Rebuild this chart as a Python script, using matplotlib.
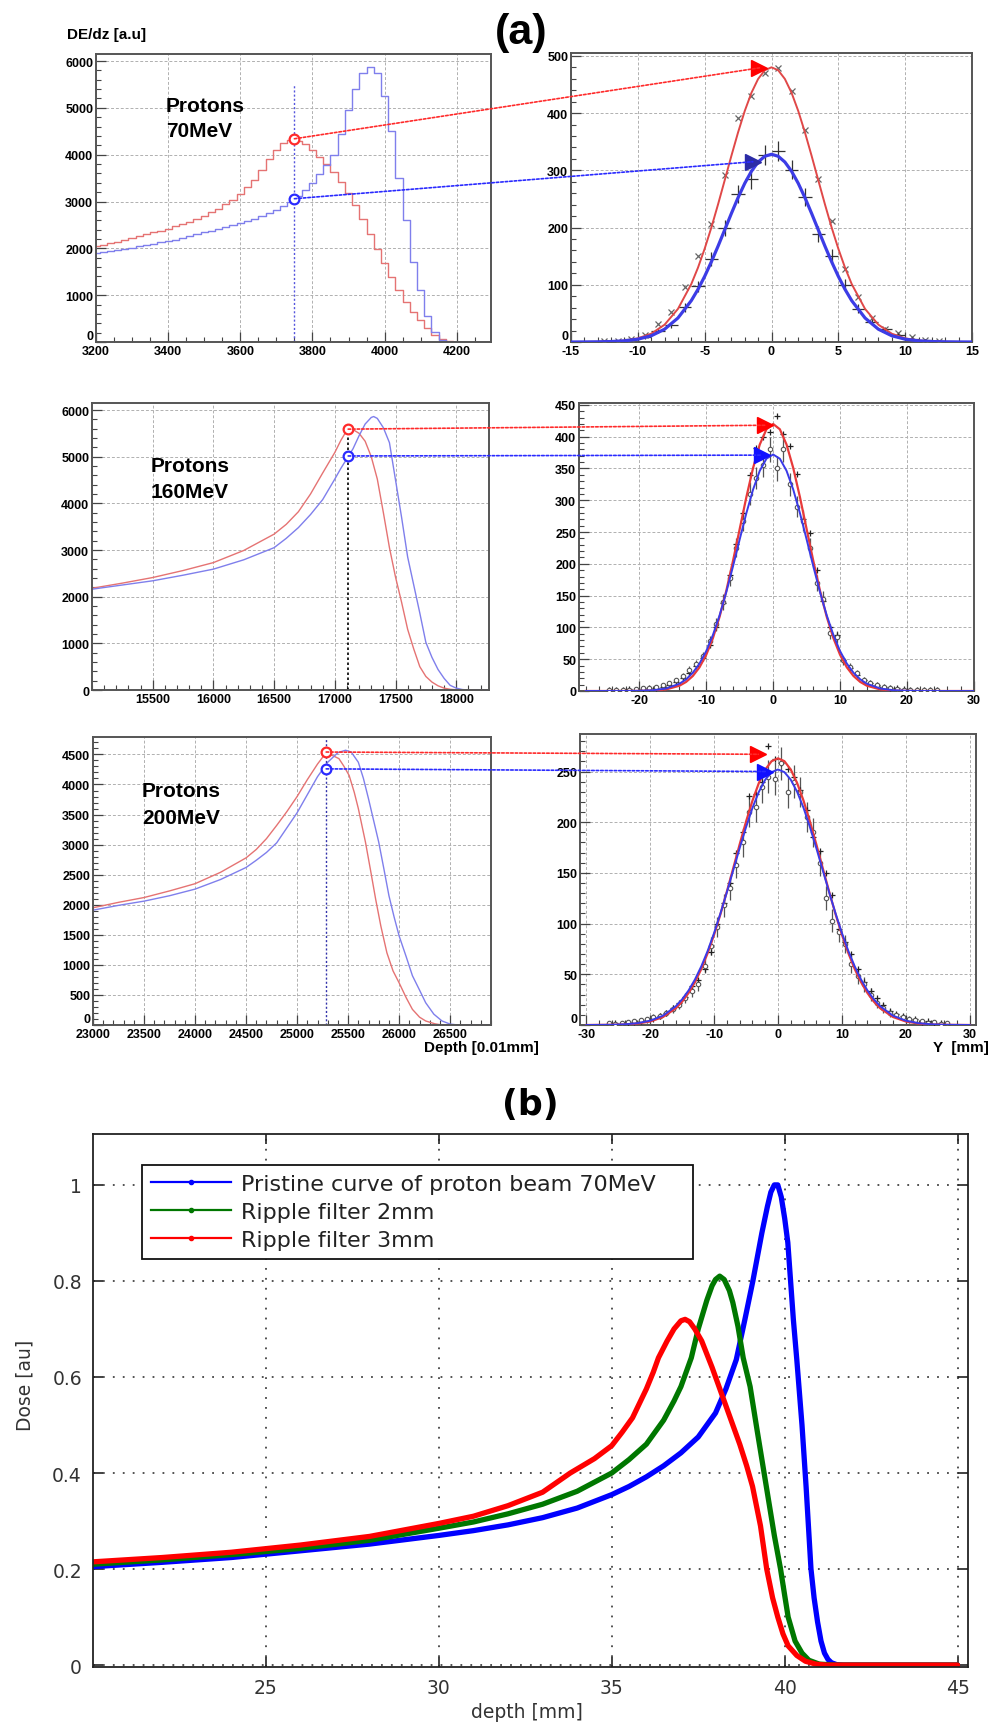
import numpy as np
import matplotlib
matplotlib.use("Agg")
import matplotlib.pyplot as plt
from matplotlib.ticker import MultipleLocator
from matplotlib.patches import ConnectionPatch
from matplotlib.lines import Line2D

plt.rcParams['font.family'] = ['Liberation Sans', 'DejaVu Sans']
plt.rcParams['axes.unicode_minus'] = False

# ------------------------------------------------------------------ data
# Row 1 (70 MeV) depth-dose step histograms, bins of 20 (0.01 mm)
r1_bins = np.arange(3200, 4301, 20)
r1_red = [2050, 2080, 2110, 2140, 2180, 2220, 2260, 2300, 2340, 2380,
          2420, 2470, 2520, 2570, 2630, 2700, 2770, 2850, 2940, 3040,
          3160, 3300, 3470, 3680, 3900, 4090, 4240, 4310, 4300, 4220,
          4090, 3960, 3810, 3620, 3420, 3180, 2920, 2620, 2310, 1980,
          1680, 1380, 1110, 860, 640, 460, 290, 150, 60, 15,
          0, 0, 0, 0, 0, 0]
r1_blue = [1900, 1920, 1940, 1960, 1990, 2010, 2040, 2070, 2100, 2125,
           2150, 2185, 2220, 2260, 2300, 2340, 2380, 2420, 2460, 2500,
           2540, 2580, 2630, 2690, 2750, 2820, 2900, 3000, 3110, 3250,
           3400, 3580, 3780, 4000, 4450, 4950, 5400, 5750, 5870, 5750,
           5250, 4500, 3500, 2600, 1700, 1100, 550, 220, 40, 0,
           0, 0, 0, 0, 0, 0]

# Row 2 (160 MeV)
r2_red_x = [15000, 15250, 15500, 15750, 16000, 16250, 16500, 16600, 16700, 16800,
            16900, 17000, 17050, 17100, 17150, 17200, 17250, 17300, 17350, 17400,
            17450, 17500, 17550, 17600, 17650, 17700, 17750, 17800, 17850, 17900,
            17950, 18000, 18050, 18270]
r2_red_y = [2180, 2290, 2410, 2560, 2730, 2990, 3340, 3550, 3820, 4200,
            4650, 5090, 5350, 5570, 5580, 5500, 5330, 5000, 4520, 3800,
            3050, 2420, 1880, 1300, 880, 500, 290, 170, 90, 40,
            15, 5, 0, 0]
r2_blue_x = [15000, 15250, 15500, 15750, 16000, 16250, 16500, 16600, 16700, 16800,
             16900, 17000, 17050, 17100, 17150, 17200, 17250, 17300, 17320, 17350,
             17400, 17450, 17500, 17550, 17600, 17650, 17700, 17750, 17800, 17850,
             17900, 17950, 18000, 18050, 18100, 18270]
r2_blue_y = [2160, 2250, 2340, 2460, 2590, 2790, 3050, 3250, 3480, 3760,
             4080, 4520, 4750, 4960, 5170, 5450, 5700, 5840, 5860, 5820,
             5620, 5300, 4500, 3700, 2850, 2250, 1650, 1020, 700, 440,
             250, 100, 40, 10, 0, 0]

# Row 3 (200 MeV)
r3_red_x = [23000, 23250, 23500, 23750, 24000, 24250, 24500, 24600, 24700, 24800,
            24900, 25000, 25100, 25200, 25280, 25350, 25410, 25460, 25510, 25560,
            25600, 25670, 25720, 25770, 25820, 25880, 25940, 26000, 26070, 26130,
            26200, 26260, 26350, 26420, 26900]
r3_red_y = [1950, 2040, 2120, 2230, 2350, 2540, 2780, 2920, 3100, 3320,
            3550, 3800, 4080, 4340, 4520, 4480, 4430, 4300, 4150, 3870,
            3600, 3040, 2570, 2090, 1650, 1200, 900, 700, 450, 260,
            130, 67, 20, 0, 0]
r3_blue_x = [23000, 23250, 23500, 23750, 24000, 24250, 24500, 24600, 24700, 24800,
             24900, 25000, 25100, 25200, 25300, 25400, 25475, 25530, 25600, 25650,
             25700, 25750, 25800, 25850, 25900, 25950, 26000, 26070, 26130, 26200,
             26260, 26340, 26420, 26500, 26580, 26900]
r3_blue_y = [1910, 1990, 2060, 2150, 2260, 2420, 2620, 2740, 2870, 3030,
             3280, 3530, 3830, 4130, 4370, 4530, 4570, 4540, 4370, 4100,
             3760, 3400, 3040, 2600, 2150, 1800, 1480, 1130, 820, 580,
             370, 180, 67, 15, 0, 0]

# Lateral profiles: fitted curves
fit1_x = [-15, -14, -13, -12, -11, -10, -9, -8, -7, -6, -5.5, -5, -4.5, -4, -3.5, -3, -2.5, -2,
          -1.5, -1, -0.5, 0, 0.5, 1, 1.5, 2, 2.5, 3, 3.5, 4, 4.5, 5, 5.5, 6, 7, 8, 9, 10, 11,
          12, 13, 14, 15]
fit1_red = [0, 0.1, 0.3, 1.0, 2.6, 6.4, 14.5, 30.2, 57.8, 101.3, 129.9, 163.0, 200.0, 240.4,
            282.7, 325.4, 366.4, 403.8, 435.5, 459.7, 474.9, 480, 474.9, 459.7, 435.5, 403.8,
            366.4, 325.4, 282.7, 240.4, 200.0, 163.0, 129.9, 101.3, 57.8, 30.2, 14.5, 6.4,
            2.6, 1.0, 0.3, 0.1, 0]
fit1_blue = [0, 0.1, 0.3, 0.8, 2.0, 4.9, 10.9, 22.3, 41.9, 72.3, 92.0, 114.7, 140.1, 167.4,
             196.0, 224.7, 252.3, 277.3, 298.4, 314.5, 324.6, 328, 324.6, 314.5, 298.4, 277.3,
             252.3, 224.7, 196.0, 167.4, 140.1, 114.7, 92.0, 72.3, 41.9, 22.3, 10.9, 4.9,
             2.0, 0.8, 0.3, 0.1, 0]

fit2_x = [-28, -26, -24, -22, -20, -18, -16, -14, -13, -12, -11, -10, -9, -8, -7, -6, -5, -4,
          -3, -2, -1, 0, 1, 2, 3, 4, 5, 6, 7, 8, 9, 10, 11, 12, 13, 14, 16, 18, 20, 22, 24,
          26, 28, 30]
fit2_red = [0, 0, 0, 0, 0.1, 0.6, 2.5, 8.3, 14.3, 23.6, 37.3, 56.8, 83.1, 116.8, 157.6,
            204.5, 254.7, 305.0, 350.8, 387.7, 411.7, 420, 411.7, 387.7, 350.8, 305.0,
            254.7, 204.5, 157.6, 116.8, 83.1, 56.8, 37.3, 23.6, 14.3, 8.3, 2.5, 0.6, 0.1,
            0, 0, 0, 0, 0]
fit2_blue = [0, 0, 0, 0, 0.3, 1.2, 3.9, 11.4, 18.4, 28.7, 43.2, 62.7, 88.0, 119.1, 155.5,
             196.0, 238.4, 279.8, 316.9, 346.4, 365.4, 372, 365.4, 346.4, 316.9, 279.8,
             238.4, 196.0, 155.5, 119.1, 88.0, 62.7, 43.2, 28.7, 18.4, 11.4, 3.9, 1.2, 0.3,
             0, 0, 0, 0, 0]

fit3_x = [-30, -28, -26, -24, -22, -20, -18, -16, -15, -14, -13, -12, -11, -10, -9, -8, -7,
          -6, -5, -4, -3, -2, -1, 0, 1, 2, 3, 4, 5, 6, 7, 8, 9, 10, 11, 12, 13, 14, 15, 16,
          18, 20, 22, 24, 26, 28, 30]
fit3_red = [0, 0.1, 0.2, 0.5, 1.4, 3.5, 7.9, 16.5, 23.1, 31.6, 42.3, 55.4, 71.1, 89.2, 109.5,
            131.7, 154.8, 178.2, 200.7, 221.2, 238.6, 251.9, 260.2, 263, 260.2, 251.9, 238.6,
            221.2, 200.7, 178.2, 154.8, 131.7, 109.5, 89.2, 71.1, 55.4, 42.3, 31.6, 23.1,
            16.5, 7.9, 3.5, 1.4, 0.5, 0.2, 0.1, 0]
fit3_blue = [0, 0.1, 0.2, 0.7, 1.8, 4.3, 9.2, 18.5, 25.4, 34.1, 44.9, 58.0, 73.3, 90.8, 110.3,
             131.1, 152.8, 174.5, 195.2, 214.1, 229.9, 241.9, 249.4, 252, 249.4, 241.9, 229.9,
             214.1, 195.2, 174.5, 152.8, 131.1, 110.3, 90.8, 73.3, 58.0, 44.9, 34.1, 25.4,
             18.5, 9.2, 4.3, 1.8, 0.7, 0.2, 0.1, 0]

# Lateral profiles: measured points
p1_x = np.arange(-12.5, 13, 1)
p1_red = [1, 2, 5, 12, 32, 52, 96, 150, 206, 291, 392, 430, 470,
          478, 439, 370, 285, 212, 127, 78, 42, 23, 15, 9, 3, 1]
p1_blue = [1, 2, 5, 9, 20, 30, 61, 97, 145, 199, 259, 285, 327,
           334, 301, 253, 189, 150, 100, 58, 35, 22, 12, 6, 3, 1]
p1_err = [1, 1, 2, 3, 4, 5, 8, 10, 12, 14, 16, 17, 18,
          18, 17, 16, 14, 12, 10, 8, 6, 5, 3, 2, 2, 1]

p2_x = np.arange(-24.5, 25, 1)
p2_red = [1, 2, 1, 3, 2, 3, 4, 5, 7, 10, 14, 20, 28, 40, 52, 72, 100, 138, 182, 232,
          280, 340, 383, 400, 408,
          432, 405, 385, 342, 270, 248, 190, 142, 100, 88, 48, 36, 25, 18, 13, 10, 7, 5,
          4, 3, 2, 2, 1, 2, 1]
p2_blue = [2, 1, 2, 2, 3, 4, 5, 7, 9, 12, 17, 23, 33, 42, 55, 78, 105, 140, 178, 225,
           268, 310, 335, 355, 380,
           350, 380, 325, 290, 268, 225, 170, 145, 92, 85, 48, 38, 28, 17, 12, 9, 6, 4,
           3, 2, 2, 1, 2, 1, 1]
p2_err = [1, 1, 1, 1, 2, 2, 2, 3, 3, 3, 4, 5, 6, 6, 7, 9, 10, 12, 13, 15, 16, 18, 18, 19, 20,
          19, 20, 18, 17, 16, 15, 13, 12, 10, 9, 7, 6, 5, 4, 3, 3, 2, 2, 2, 1, 1, 1, 1, 1, 1]

p3_x = np.arange(-26.5, 27, 1)
p3_red = [1, 2, 1, 2, 3, 4, 5, 6, 9, 12, 17, 22, 28, 38, 44, 55, 72, 100, 120, 140,
          170, 190, 226, 228, 240, 275, 262,
          258, 252, 245, 232, 212, 185, 172, 150, 128, 95, 82, 70, 55, 42, 34, 27, 20,
          14, 11, 9, 5, 6, 3, 4, 2, 2, 1]
p3_blue = [2, 1, 2, 3, 4, 5, 6, 8, 9, 12, 16, 20, 27, 34, 40, 58, 78, 97, 118, 135,
           158, 180, 210, 215, 235, 245, 243,
           258, 230, 240, 230, 205, 190, 160, 125, 103, 92, 80, 60, 48, 40, 30, 22, 17,
           12, 10, 8, 6, 5, 4, 2, 3, 1, 2]
p3_err = [1, 1, 1, 2, 2, 2, 2, 3, 3, 3, 4, 4, 5, 6, 6, 7, 9, 10, 11, 12, 13, 14, 15, 15,
          16, 16, 16,
          16, 16, 16, 15, 15, 14, 13, 12, 11, 10, 9, 9, 8, 7, 6, 5, 5, 4, 3, 3, 3, 2, 2, 2,
          1, 1, 1]

# Selected-depth markers (left) and arrow targets (right)
sel_depth = [3750, 17110, 25285]
sel_red = [4340, 5590, 4540]
sel_blue = [3060, 5015, 4260]
tgt_red = [(-0.9, 479), (-1.2, 418), (-3.1, 267)]
tgt_blue = [(-1.4, 315), (-1.7, 371), (-2.0, 250)]
energies = ['70MeV', '160MeV', '200MeV']

# Panel (b)
b_blue_x = [20, 22, 24, 26, 28, 30, 31, 32, 33, 34, 35, 35.5, 36, 36.5, 37, 37.5, 38, 38.3,
            38.6, 38.85, 39.08, 39.34, 39.5, 39.6, 39.7, 39.8, 39.9, 40.0, 40.09, 40.17,
            40.25, 40.35, 40.5, 40.62, 40.76, 40.85, 40.95, 41.05, 41.15, 41.25, 41.35,
            41.5, 41.7, 45]
b_blue_y = [0.205, 0.214, 0.224, 0.238, 0.252, 0.27, 0.28, 0.292, 0.307, 0.327, 0.355, 0.372,
            0.392, 0.415, 0.442, 0.475, 0.525, 0.575, 0.636, 0.72, 0.80, 0.90, 0.955, 0.985,
            1.0, 1.0, 0.975, 0.93, 0.88, 0.80, 0.72, 0.636, 0.50, 0.37, 0.20, 0.14, 0.09,
            0.05, 0.025, 0.012, 0.005, 0.001, 0.0, 0.0]
b_green_x = [20, 22, 24, 26, 28, 30, 31, 32, 33, 34, 35, 35.5, 36, 36.5, 36.8, 37, 37.3, 37.5,
             37.75, 37.9, 38.0, 38.12, 38.25, 38.4, 38.5, 38.65, 38.8, 39.0, 39.2, 39.45,
             39.7, 39.88, 40.0, 40.1, 40.3, 40.5, 40.7, 41.0, 41.5, 45]
b_green_y = [0.21, 0.219, 0.23, 0.243, 0.26, 0.285, 0.298, 0.315, 0.335, 0.362, 0.40, 0.428,
             0.46, 0.51, 0.55, 0.58, 0.64, 0.70, 0.76, 0.79, 0.803, 0.81, 0.803, 0.78, 0.755,
             0.705, 0.64, 0.58, 0.49, 0.38, 0.27, 0.20, 0.145, 0.10, 0.05, 0.025, 0.01,
             0.002, 0.0, 0.0]
b_red_x = [20, 22, 24, 26, 28, 30, 31, 32, 33, 33.8, 34.5, 35, 35.3, 35.6, 35.8, 36.0, 36.2,
           36.35, 36.6, 36.8, 37.0, 37.12, 37.25, 37.4, 37.6, 37.9, 38.16, 38.4, 38.7, 38.9,
           39.07, 39.3, 39.48, 39.65, 39.8, 39.95, 40.1, 40.35, 40.6, 40.9, 41.2, 45]
b_red_y = [0.215, 0.224, 0.235, 0.25, 0.268, 0.295, 0.31, 0.332, 0.36, 0.40, 0.43, 0.457,
           0.485, 0.515, 0.545, 0.575, 0.61, 0.64, 0.675, 0.70, 0.717, 0.72, 0.715, 0.70,
           0.675, 0.62, 0.568, 0.52, 0.46, 0.415, 0.372, 0.29, 0.20, 0.14, 0.10, 0.065,
           0.04, 0.02, 0.008, 0.002, 0.0, 0.0]
b_labels = ['Pristine curve of proton beam 70MeV', 'Ripple filter 2mm', 'Ripple filter 3mm']
b_xticks = [25, 30, 35, 40, 45]
b_yticks = [0, 0.2, 0.4, 0.6, 0.8, 1]
b_yticklabels = ['0', '0.2', '0.4', '0.6', '0.8', '1']

# ------------------------------------------------------------------ figure
W, H = 991, 1731
fig = plt.figure(figsize=(W / 100, H / 100), dpi=100)
fig.patch.set_facecolor('white')


def box(x0, y0, x1, y1):
    return [x0 / W, 1 - y1 / H, (x1 - x0) / W, (y1 - y0) / H]


def root_ax(r, xlim, ylim, xt, xminor, yt, yminor, lift_zero=False):
    ax = fig.add_axes(box(*r))
    ax.set_xlim(*xlim)
    ax.set_ylim(*ylim)
    ax.set_xticks(xt)
    ax.set_xticklabels([str(v) for v in xt], fontweight='bold')
    ax.set_yticks(yt)
    ax.set_yticklabels([str(v) for v in yt], fontweight='bold')
    ax.xaxis.set_minor_locator(MultipleLocator(xminor))
    ax.yaxis.set_minor_locator(MultipleLocator(yminor))
    ax.tick_params(which='both', direction='in', top=False, right=False,
                   labelsize=9, pad=2, color='#444444', labelcolor='black')
    ax.tick_params(which='major', length=7, width=0.9)
    ax.tick_params(which='minor', length=3.5, width=0.8)
    ax.grid(True, which='major', color='#b0b0b0', linestyle=(0, (3, 2)), lw=0.7)
    ax.set_axisbelow(True)
    for s in ax.spines.values():
        s.set_color('#555555')
        s.set_linewidth(1.4)
    if lift_zero:
        ax.get_yticklabels()[0].set_verticalalignment('bottom')
    return ax


RED_L, BLUE_L = '#e57373', '#7f7fec'

ax1l = root_ax((96, 55, 491, 343), (3200, 4295), (0, 6150),
               list(range(3200, 4201, 200)), 50, list(range(0, 6001, 1000)), 200, True)
ax1r = root_ax((571, 54, 972, 343), (-15, 15), (0, 505),
               list(range(-15, 16, 5)), 1, list(range(0, 501, 100)), 20, True)
ax2l = root_ax((92, 404, 489, 691), (15000, 18270), (0, 6150),
               list(range(15500, 18001, 500)), 100, list(range(0, 6001, 1000)), 200)
ax2r = root_ax((579, 404, 974, 692), (-29, 30), (0, 453),
               list(range(-20, 31, 10)), 2, list(range(0, 451, 50)), 10)
ax3l = root_ax((93, 738, 491, 1026), (23000, 26900), (0, 4790),
               list(range(23000, 26501, 500)), 100, list(range(0, 4501, 500)), 100, True)
ax3r = root_ax((580, 735, 976, 1026), (-31, 31), (0, 287),
               list(range(-30, 31, 10)), 2, list(range(0, 251, 50)), 10, True)

# depth-dose curves
ax1l.step(r1_bins, r1_red, where='mid', color=RED_L, lw=1.0)
ax1l.step(r1_bins, r1_blue, where='mid', color=BLUE_L, lw=1.0)
ax2l.plot(r2_red_x, r2_red_y, color=RED_L, lw=1.0)
ax2l.plot(r2_blue_x, r2_blue_y, color=BLUE_L, lw=1.0)
ax3l.plot(r3_red_x, r3_red_y, color=RED_L, lw=1.0)
ax3l.plot(r3_blue_x, r3_blue_y, color=BLUE_L, lw=1.0)

# vertical markers of selected depth
ax1l.plot([sel_depth[0]] * 2, [0, 5500], color='#5555dd', ls=(0, (1.5, 1.5)), lw=1.0)
ax2l.plot([sel_depth[1]] * 2, [0, sel_red[1]], color='black', ls=(0, (1.5, 1.5)), lw=1.2)
ax3l.plot([sel_depth[2]] * 2, [0, 4790], color='#3333aa', ls=(0, (1.5, 1.5)), lw=1.0)

# lateral profiles
ax1r.plot(p1_x, p1_red, 'x', color='#666666', ms=4.5, mew=0.9, zorder=3)
ax1r.errorbar(p1_x, p1_blue, xerr=0.5, yerr=p1_err, fmt='none', ecolor='#333333',
              elinewidth=0.9, zorder=3)
ax1r.plot(fit1_x, fit1_red, color='#e04848', lw=1.4, zorder=4)
ax1r.plot(fit1_x, fit1_blue, color='#3c3ce6', lw=2.3, zorder=4)

for ax, px, pr, pb, pe, fx, fr, fb in [
        (ax2r, p2_x, p2_red, p2_blue, p2_err, fit2_x, fit2_red, fit2_blue),
        (ax3r, p3_x, p3_red, p3_blue, p3_err, fit3_x, fit3_red, fit3_blue)]:
    ax.errorbar(px, pb, yerr=pe, fmt='o', ms=3.2, mfc='white', mec='#555555', mew=0.8,
                ecolor='#555555', elinewidth=0.9, zorder=3)
    ax.plot(px, pr, '+', color='#222222', ms=5, mew=0.9, zorder=3)
    ax.plot(fx, fr, color='#e83a3a', lw=1.6, zorder=4)
    ax.plot(fx, fb, color='#3a3ae8', lw=1.4, zorder=4)

# circles, arrows and triangles
lefts = [ax1l, ax2l, ax3l]
rights = [ax1r, ax2r, ax3r]
for i in range(3):
    axl, axr = lefts[i], rights[i]
    for yv, tgt, col, tri in [(sel_red[i], tgt_red[i], '#ff2a2a', '#ff0000'),
                              (sel_blue[i], tgt_blue[i], '#2a2aff',
                               '#2b2ba6' if i == 0 else '#1010ff')]:
        con = ConnectionPatch(xyA=(sel_depth[i], yv), coordsA=axl.transData,
                              xyB=tgt, coordsB=axr.transData,
                              color=col, lw=1.2, linestyle=(0, (1.5, 1.2)), zorder=6)
        fig.add_artist(con)
        axl.plot(sel_depth[i], yv, 'o', mfc='white', mec=col, ms=7, mew=1.6,
                 zorder=7, clip_on=False)
        axr.plot(tgt[0], tgt[1], '>', color=tri, ms=11, zorder=7, clip_on=False)

# texts of panel (a)
fig.text(521 / W, 1 - 33 / H, '(a)', fontsize=31, fontweight='bold', ha='center', va='center')
fig.text(67 / W, 1 - 35 / H, 'DE/dz [a.u]', fontsize=11, fontweight='bold', ha='left',
         va='center')
for (xp, yb1, yb2), en in zip([(166, 112, 137), (151, 472, 498), (142, 797, 824)], energies):
    fig.text(xp / W, 1 - yb1 / H, 'Protons', fontsize=15, fontweight='bold', ha='left',
             va='baseline')
    fig.text(xp / W, 1 - yb2 / H, en, fontsize=15, fontweight='bold', ha='left',
             va='baseline')
fig.text(424 / W, 1 - 1048 / H, 'Depth [0.01mm]', fontsize=11, fontweight='bold', ha='left',
         va='center')
fig.text(933 / W, 1 - 1048 / H, 'Y  [mm]', fontsize=11, fontweight='bold', ha='left',
         va='center')

# ------------------------------------------------------------------ panel (b)
DJ = ['DejaVu Sans']
axb = fig.add_axes(box(93, 1135, 968, 1668))
axb.set_xlim(20, 45.3)
axb.set_ylim(-0.004, 1.106)
axb.plot(b_blue_x, b_blue_y, color='#0000ff', lw=3.8, solid_capstyle='round',
         solid_joinstyle='round')
axb.plot(b_green_x, b_green_y, color='#007700', lw=3.8, solid_capstyle='round',
         solid_joinstyle='round')
axb.plot(b_red_x, b_red_y, color='#ff0000', lw=3.8, solid_capstyle='round',
         solid_joinstyle='round')
axb.set_xticks(b_xticks)
axb.set_xticklabels([str(v) for v in b_xticks], family=DJ)
axb.set_yticks(b_yticks)
axb.set_yticklabels(b_yticklabels, family=DJ)
axb.tick_params(which='both', direction='in', top=True, right=True, length=7, width=1.2,
                labelsize=13.5, pad=8, color='#222222', labelcolor='#333333')
axb.grid(True, color='#444444', linestyle=(0, (1, 4.5)), lw=1.3)
for s in axb.spines.values():
    s.set_color('#222222')
    s.set_linewidth(1.3)

handles = [Line2D([], [], color=c, lw=1.6, marker='.', ms=6)
           for c in ['#0000ff', '#007700', '#ff0000']]
leg = axb.legend(handles, b_labels, loc='upper left',
                 bbox_to_anchor=(0.056, 0.735, 0.63, 0.207), mode='expand',
                 borderaxespad=0, prop={'family': DJ, 'size': 16}, labelcolor='#222222',
                 handlelength=3.6, handletextpad=0.45, labelspacing=0.36, borderpad=0.4,
                 numpoints=1, fancybox=False, framealpha=1)
leg.get_frame().set_edgecolor('#111111')
leg.get_frame().set_linewidth(1.3)

fig.text(530 / W, 1 - 1105 / H, '(b)', fontsize=25, fontweight='bold', family=DJ,
         ha='center', va='center')
fig.text(527 / W, 1 - 1713 / H, 'depth [mm]', fontsize=13.5, family=DJ, color='#333333',
         ha='center', va='center')
fig.text(25 / W, 1 - 1385 / H, 'Dose [au]', fontsize=13.5, family=DJ, color='#333333',
         ha='center', va='center', rotation=90)

fig.savefig('out.png', dpi=100)
